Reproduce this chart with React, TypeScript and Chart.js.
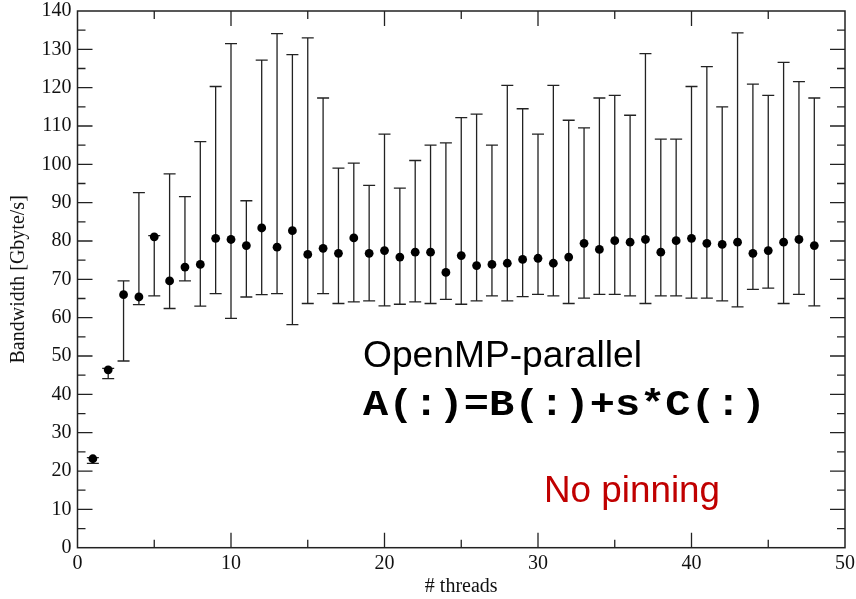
import React, { useEffect, useRef } from 'react';
import { Chart, registerables } from 'chart.js';

Chart.register(...registerables);

const threads = [
  1, 2, 3, 4, 5, 6, 7, 8, 9, 10, 11, 12, 13, 14, 15, 16, 17, 18, 19, 20, 21, 22, 23, 24,
  25, 26, 27, 28, 29, 30, 31, 32, 33, 34, 35, 36, 37, 38, 39, 40, 41, 42, 43, 44, 45, 46, 47, 48,
];
const meanBW = [
  23.2, 46.4, 66.0, 65.4, 81.1, 69.6, 73.2, 73.9, 80.7, 80.4, 78.8, 83.4, 78.4, 82.7, 76.5, 78.1,
  76.8, 80.8, 76.8, 77.5, 75.8, 77.1, 77.1, 71.8, 76.2, 73.6, 73.9, 74.2, 75.2, 75.5, 74.2, 75.8,
  79.4, 77.8, 80.1, 79.7, 80.4, 77.1, 80.1, 80.7, 79.4, 79.1, 79.7, 76.8, 77.5, 79.7, 80.4, 78.8,
];
const minBW = [
  22.0, 44.1, 48.7, 63.4, 65.7, 62.4, 69.6, 63.0, 66.3, 59.8, 65.4, 66.0, 66.3, 58.2, 63.7, 66.3,
  63.7, 64.1, 64.4, 63.1, 63.5, 64.1, 63.7, 64.8, 63.5, 64.4, 65.7, 64.4, 65.5, 66.1, 65.7, 63.7,
  65.1, 66.1, 66.1, 65.7, 63.7, 65.7, 65.7, 65.1, 65.1, 64.4, 62.8, 67.4, 67.7, 63.7, 66.1, 63.1,
];
const maxBW = [
  23.5, 46.8, 69.6, 92.6, 81.4, 97.5, 91.6, 105.9, 120.3, 131.5, 90.5, 127.2, 134.1, 128.6, 133.0, 117.3,
  99.0, 100.3, 94.5, 107.9, 93.8, 101.0, 105.0, 105.6, 112.2, 113.1, 105.0, 120.6, 114.5, 107.9, 120.6, 111.5,
  109.5, 117.3, 118.0, 112.8, 128.9, 106.6, 106.6, 120.3, 125.5, 115.0, 134.3, 120.9, 118.0, 126.6, 121.6, 117.3,
];

const xLabel = '# threads';
const yLabel = 'Bandwidth [Gbyte/s]';
const note1 = 'OpenMP-parallel';
const note2 = 'A(:)=B(:)+s*C(:)';
const note3 = 'No pinning';

const serif = '"Liberation Serif", "Times New Roman", serif';

const errorBarPlugin = {
  id: 'errorBars',
  beforeDatasetsDraw(chart: any) {
    const { ctx, scales } = chart;
    const xs = scales.x;
    const ys = scales.y;
    ctx.save();
    ctx.strokeStyle = '#222';
    ctx.lineWidth = 1.3;
    const cap = 6;
    threads.forEach((t, i) => {
      const px = xs.getPixelForValue(t);
      const pLo = ys.getPixelForValue(minBW[i]);
      const pHi = ys.getPixelForValue(maxBW[i]);
      ctx.beginPath();
      ctx.moveTo(px, pLo);
      ctx.lineTo(px, pHi);
      ctx.moveTo(px - cap, pLo);
      ctx.lineTo(px + cap, pLo);
      ctx.moveTo(px - cap, pHi);
      ctx.lineTo(px + cap, pHi);
      ctx.stroke();
    });
    ctx.restore();
  },
};

const framePlugin = {
  id: 'frame',
  afterDatasetsDraw(chart: any) {
    const { ctx, chartArea, scales } = chart;
    const { left, right, top, bottom } = chartArea;
    ctx.save();
    ctx.strokeStyle = '#222';
    ctx.lineWidth = 1.5;
    ctx.strokeRect(left, top, right - left, bottom - top);
    ctx.lineWidth = 1.3;
    const major = 15;
    const minor = 8;
    ctx.beginPath();
    for (let v = 5; v < 50; v += 5) {
      const px = scales.x.getPixelForValue(v);
      const len = v % 10 === 0 ? major : minor;
      ctx.moveTo(px, bottom);
      ctx.lineTo(px, bottom - len);
      ctx.moveTo(px, top);
      ctx.lineTo(px, top + len);
    }
    for (let v = 5; v < 140; v += 5) {
      const py = scales.y.getPixelForValue(v);
      const len = v % 10 === 0 ? major : minor;
      ctx.moveTo(left, py);
      ctx.lineTo(left + len, py);
      ctx.moveTo(right, py);
      ctx.lineTo(right - len, py);
    }
    ctx.stroke();
    ctx.restore();
  },
};

function drawFitted(ctx: CanvasRenderingContext2D, text: string, font: string, color: string, x: number, baseline: number, width: number) {
  ctx.save();
  ctx.font = font;
  ctx.fillStyle = color;
  ctx.textAlign = 'left';
  ctx.textBaseline = 'alphabetic';
  const w = ctx.measureText(text).width;
  ctx.translate(x, baseline);
  ctx.scale(width / w, 1);
  ctx.fillText(text, 0, 0);
  ctx.restore();
}

const notesPlugin = {
  id: 'notes',
  afterDraw(chart: any) {
    const { ctx } = chart;
    drawFitted(ctx, note1, '36px "Liberation Sans", Arial, sans-serif', '#000', 363, 367, 279);
    drawFitted(ctx, note2, 'bold 36px "Liberation Mono", "Courier New", monospace', '#000', 363, 415, 403);
    drawFitted(ctx, note3, '36px "Liberation Sans", Arial, sans-serif', '#c00000', 544, 502, 176);
  },
};

export default function App() {
  const canvasRef = useRef<HTMLCanvasElement | null>(null);

  useEffect(() => {
    const canvas = canvasRef.current;
    if (!canvas) return;
    const chart = new Chart(canvas, {
      type: 'scatter',
      data: {
        datasets: [
          {
            data: threads.map((t, i) => ({ x: t, y: meanBW[i] })),
            pointStyle: 'circle',
            pointRadius: 4.4,
            pointBackgroundColor: '#000',
            pointBorderColor: '#000',
            pointBorderWidth: 0,
            showLine: false,
          },
        ],
      },
      options: {
        responsive: true,
        maintainAspectRatio: false,
        animation: false,
        layout: { padding: { top: 11, right: 11, left: 0, bottom: 0 } },
        plugins: { legend: { display: false }, tooltip: { enabled: false } },
        scales: {
          x: {
            type: 'linear',
            min: 0,
            max: 50,
            ticks: {
              stepSize: 10,
              color: '#111',
              padding: 4,
              maxRotation: 0,
              font: { family: serif, size: 20 },
            },
            grid: { display: false, drawTicks: false },
            border: { display: false },
            title: {
              display: true,
              text: xLabel,
              color: '#111',
              padding: 0,
              font: { family: serif, size: 20 },
            },
            afterFit: (s: any) => {
              s.height = 51.3;
              s.paddingLeft = 0;
              s.paddingRight = 0;
            },
          },
          y: {
            type: 'linear',
            min: 0,
            max: 140,
            ticks: {
              stepSize: 10,
              color: '#111',
              padding: 6,
              font: { family: serif, size: 20, lineHeight: 1 },
            },
            grid: { display: false, drawTicks: false },
            border: { display: false },
            title: {
              display: true,
              text: yLabel,
              color: '#111',
              padding: { top: 7, bottom: 0 },
              font: { family: serif, size: 20 },
            },
            afterFit: (s: any) => {
              s.width = 77.5;
              s.paddingTop = 0;
              s.paddingBottom = 0;
            },
          },
        },
      },
      plugins: [errorBarPlugin, framePlugin, notesPlugin],
    });
    return () => chart.destroy();
  }, []);

  return (
    <div style={{ position: 'fixed', left: 0, top: 0, width: 856, height: 599, background: '#fff' }}>
      <canvas ref={canvasRef} />
    </div>
  );
}
